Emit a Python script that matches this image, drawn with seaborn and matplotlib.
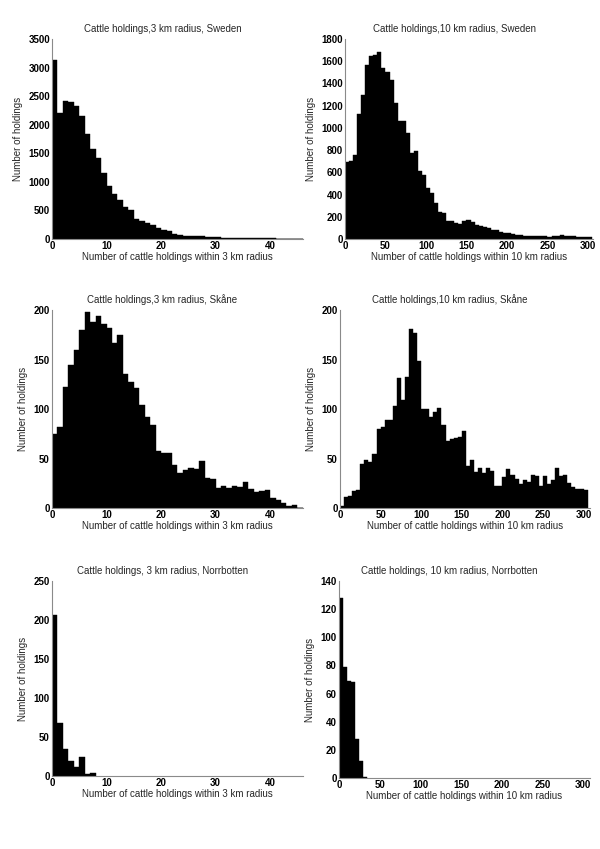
import numpy as np
import pandas as pd
import matplotlib
matplotlib.use('Agg')
import matplotlib.pyplot as plt
import seaborn as sns

# Counts per histogram bin
sweden_3km = [3130, 2200, 2415, 2400, 2320, 2150, 1845, 1580, 1410, 1155,
              935, 785, 685, 565, 515, 355, 310, 285, 240, 190,
              150, 135, 90, 70, 57, 50, 47, 45, 38, 32,
              28, 24, 20, 18, 16, 15, 14, 12, 12, 11,
              10, 8, 0, 0, 0, 0]
sweden_10km = [690, 705, 760, 1125, 1295, 1570, 1650, 1660, 1685, 1535,
               1505, 1435, 1225, 1060, 1065, 955, 775, 790, 615, 580,
               460, 410, 320, 245, 230, 165, 160, 145, 135, 165,
               170, 150, 125, 120, 110, 95, 85, 80, 65, 55,
               50, 45, 40, 32, 30, 28, 28, 25, 28, 25,
               22, 25, 28, 35, 30, 28, 25, 22, 20, 18, 18]
skane_3km = [75, 82, 122, 144, 160, 180, 198, 188, 194, 186,
             182, 167, 175, 135, 127, 121, 104, 92, 84, 58,
             56, 56, 43, 35, 38, 40, 39, 48, 30, 29,
             20, 22, 20, 22, 21, 26, 19, 16, 17, 18,
             10, 8, 5, 2, 3, 0]
skane_10km = [2, 11, 12, 17, 18, 44, 49, 47, 55, 80,
              82, 89, 89, 103, 131, 109, 132, 181, 177, 149,
              100, 100, 92, 97, 101, 84, 68, 70, 71, 72,
              78, 42, 49, 36, 40, 35, 40, 37, 22, 22,
              31, 39, 33, 29, 24, 28, 26, 33, 32, 22,
              32, 24, 28, 40, 32, 33, 25, 21, 19, 19, 18]
norrbotten_3km = [206, 68, 35, 19, 12, 24, 2, 4]
norrbotten_10km = [128, 79, 69, 68, 28, 12, 1]

titles = ["Cattle holdings,3 km radius, Sweden",
          "Cattle holdings,10 km radius, Sweden",
          "Cattle holdings,3 km radius, Sk\u00e5ne",
          "Cattle holdings,10 km radius, Sk\u00e5ne",
          "Cattle holdings, 3 km radius, Norrbotten",
          "Cattle holdings, 10 km radius, Norrbotten"]
xlabel_3 = "Number of cattle holdings within 3 km radius"
xlabel_10 = "Number of cattle holdings within 10 km radius"

sns.set_style('white')
plt.rcParams['font.family'] = ['Liberation Sans', 'DejaVu Sans']

fig = plt.figure(figsize=(6, 8.49), dpi=100)

# panel settings: counts, bin width, xmax, ymax, ystep, xlabel, axes rect
panels = [
    (sweden_3km, 1, 46, 3500, 500, xlabel_3, [0.0867, 0.7185, 0.418, 0.2356]),
    (sweden_10km, 5, 306, 1800, 200, xlabel_10, [0.575, 0.7185, 0.413, 0.2356]),
    (skane_3km, 1, 46, 200, 50, xlabel_3, [0.0867, 0.4016, 0.418, 0.2332]),
    (skane_10km, 5, 308, 200, 50, xlabel_10, [0.5667, 0.4016, 0.4167, 0.2332]),
    (norrbotten_3km, 1, 46, 250, 50, xlabel_3, [0.0867, 0.086, 0.418, 0.2297]),
    (norrbotten_10km, 5, 308, 140, 20, xlabel_10, [0.565, 0.0836, 0.418, 0.232]),
]

for i, (counts, width, xmax, ymax, ystep, xlab, rect) in enumerate(panels):
    ax = fig.add_axes(rect)
    n = len(counts)
    centers = np.arange(n) * width + width / 2
    df = pd.DataFrame({'value': centers, 'count': counts})
    sns.histplot(data=df, x='value', weights='count', binwidth=width,
                 binrange=(0, n * width), ax=ax,
                 element='step', fill=True, color='black', alpha=1,
                 linewidth=0.3, edgecolor='black')
    ax.set_xlim(0, xmax)
    ax.set_ylim(0, ymax)
    ax.set_yticks(np.arange(0, ymax + 1, ystep))
    if width == 1:
        ax.set_xticks([0, 10, 20, 30, 40])
    else:
        ax.set_xticks([0, 50, 100, 150, 200, 250, 300])
    for s in ['top', 'right']:
        ax.spines[s].set_visible(False)
    for s in ['left', 'bottom']:
        ax.spines[s].set_color('#8a8a8a')
        ax.spines[s].set_linewidth(0.8)
    ax.tick_params(direction='in', length=2.5, width=0.6, color='#8a8a8a',
                   labelsize=7, pad=1.5, labelcolor='black')
    for lbl in ax.get_xticklabels() + ax.get_yticklabels():
        lbl.set_fontweight('bold')
    ax.set_xlabel(xlab, fontsize=7, labelpad=0.5)
    ax.set_ylabel('Number of holdings', fontsize=7, labelpad=4)
    ax.set_title(titles[i], fontsize=7, x=0.44, pad=5)

plt.savefig('out.png', dpi=100)
